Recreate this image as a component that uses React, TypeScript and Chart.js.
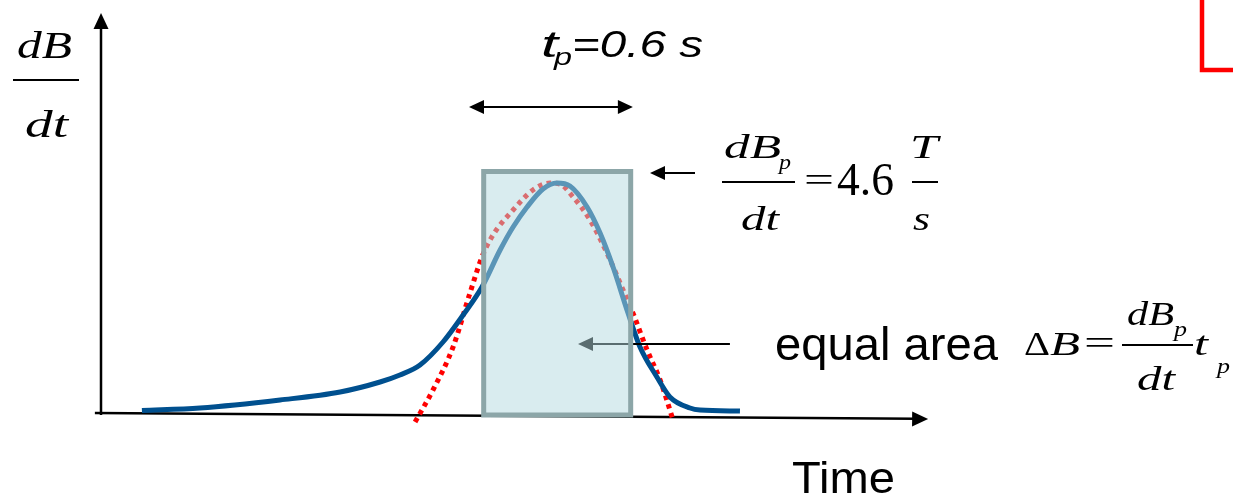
import React, { useEffect, useRef } from "react";
import { Chart, registerables } from "chart.js";

Chart.register(...registerables);

// Measured field-rate pulse (time in s, dB/dt in T/s)
const measuredTime = [0.167, 0.404, 0.731, 0.976, 1.139, 1.22, 1.302, 1.396, 1.478, 1.555, 1.629, 1.682, 1.739, 1.804, 1.861, 1.914, 1.984, 2.037, 2.09, 2.151, 2.2, 2.269, 2.322, 2.404, 2.445, 2.608];
const measuredRate = [0.05, 0.1, 0.26, 0.42, 0.62, 0.76, 0.96, 1.42, 1.96, 2.52, 3.26, 3.72, 4.12, 4.48, 4.6, 4.54, 4.12, 3.6, 2.92, 2.0, 1.32, 0.72, 0.32, 0.1, 0.06, 0.04];

// Fitted pulse shape (dotted)
const fitTime = [1.282, 1.355, 1.437, 1.506, 1.555, 1.6, 1.682, 1.763, 1.833, 1.873, 1.927, 1.996, 2.065, 2.131, 2.171, 2.229, 2.282, 2.335];
const fitRate = [-0.18, 0.46, 1.32, 2.4, 3.12, 3.56, 4.06, 4.46, 4.6, 4.58, 4.32, 3.86, 3.2, 2.46, 2.0, 1.26, 0.66, -0.14];

// Equivalent rectangular pulse
const peakRate = 4.6;
const pulseWidth = 0.6;
const pulseStart = 1.562;
const boxTop = 4.83;
const boxBottom = -0.04;

// Axis extents
const timeMax = 3.5;
const rateMax = 8;

const SERIF = "'Liberation Serif', 'Times New Roman', Times, serif";
const SANS = "'Liberation Sans', Arial, Helvetica, sans-serif";

type Ctx = CanvasRenderingContext2D;

// Draws a text run at a baseline, optionally stretched to a given advance width
function txt(ctx: Ctx, s: string, x: number, base: number, font: string, width?: number, color = "#000") {
  ctx.save();
  ctx.font = font;
  ctx.fillStyle = color;
  ctx.textAlign = "left";
  ctx.textBaseline = "alphabetic";
  const w = ctx.measureText(s).width;
  const sx = width ? width / w : 1;
  ctx.translate(x, base);
  ctx.scale(sx, 1);
  ctx.fillText(s, 0, 0);
  ctx.restore();
}

function line(ctx: Ctx, x1: number, y1: number, x2: number, y2: number, lw: number, color = "#000") {
  ctx.save();
  ctx.strokeStyle = color;
  ctx.lineWidth = lw;
  ctx.lineCap = "butt";
  ctx.beginPath();
  ctx.moveTo(x1, y1);
  ctx.lineTo(x2, y2);
  ctx.stroke();
  ctx.restore();
}

// Filled triangular arrow head pointing at (tx, ty), coming from (fx, fy)
function head(ctx: Ctx, tx: number, ty: number, fx: number, fy: number, len: number, half: number, color = "#000") {
  const a = Math.atan2(ty - fy, tx - fx);
  const bx = tx - len * Math.cos(a);
  const by = ty - len * Math.sin(a);
  ctx.save();
  ctx.fillStyle = color;
  ctx.beginPath();
  ctx.moveTo(tx, ty);
  ctx.lineTo(bx + half * Math.sin(a), by - half * Math.cos(a));
  ctx.lineTo(bx - half * Math.sin(a), by + half * Math.cos(a));
  ctx.closePath();
  ctx.fill();
  ctx.restore();
}

const axesPlugin = {
  id: "axesArrows",
  beforeDatasetsDraw(chart: any) {
    const { ctx, scales } = chart;
    const xs = scales.x;
    const ys = scales.y;
    const x0 = xs.getPixelForValue(0);
    // vertical axis
    const yTop = ys.getPixelForValue(rateMax);
    line(ctx, x0, ys.getPixelForValue(-0.04), x0, yTop + 12, 2.5);
    head(ctx, x0, yTop, x0, yTop + 20, 16, 7.5);
    // horizontal (time) axis
    const sx = xs.getPixelForValue(-0.025);
    const sy = ys.getPixelForValue(0);
    const ex = xs.getPixelForValue(3.376);
    const ey = ys.getPixelForValue(-0.12);
    line(ctx, sx, sy, ex - 12, ey - 0.2, 2.5);
    head(ctx, ex, ey, sx, sy, 16, 7.5);
  },
};

const annotationPlugin = {
  id: "pulseAnnotations",
  afterDatasetsDraw(chart: any) {
    const { ctx, scales } = chart;
    const xs = scales.x;
    const ys = scales.y;

    // equal-area pointer (sits under the box tint)
    const ay = ys.getPixelForValue(1.38);
    const ax1 = xs.getPixelForValue(2.567);
    const ax2 = xs.getPixelForValue(1.947);
    line(ctx, ax1, ay, ax2 + 12, ay, 2);
    head(ctx, ax2, ay, ax1, ay, 15, 7);

    // rectangle of equal area
    const l = xs.getPixelForValue(pulseStart);
    const r = xs.getPixelForValue(pulseStart + pulseWidth);
    const t = ys.getPixelForValue(boxTop);
    const b = ys.getPixelForValue(boxBottom);
    ctx.save();
    ctx.fillStyle = "rgba(180,218,224,0.5)";
    ctx.fillRect(l, t, r - l, b - t);
    ctx.strokeStyle = "rgb(140,166,168)";
    ctx.lineWidth = 5;
    ctx.strokeRect(l, t, r - l, b - t);
    ctx.restore();

    // pulse width arrow
    const py = ys.getPixelForValue(6.12);
    const p1 = xs.getPixelForValue(1.502);
    const p2 = xs.getPixelForValue(2.171);
    line(ctx, p1 + 10, py, p2 - 10, py, 2);
    head(ctx, p1, py, p2, py, 15, 7);
    head(ctx, p2, py, p1, py, 15, 7);

    // y label dB/dt
    txt(ctx, "dB", 17, 58, `italic 38px ${SERIF}`, 55);
    line(ctx, 13, 80, 79, 80, 2);
    txt(ctx, "dt", 25, 137, `italic 38px ${SERIF}`, 43);

    // t_p = 0.6 s
    txt(ctx, "t", 541, 57, `italic 36px ${SANS}`, 17);
    txt(ctx, "p", 554, 65, `italic 23px ${SANS}`, 18);
    txt(ctx, `=${pulseWidth.toFixed(1)} s`, 572, 57, `italic 36px ${SANS}`, 131);

    // peak pointer and dB_p/dt = 4.6 T/s
    line(ctx, 662, 173, 695, 173, 2);
    head(ctx, 650, 173, 695, 173, 15, 7);
    txt(ctx, "dB", 724, 158, `italic 34px ${SERIF}`, 57);
    txt(ctx, "p", 779, 169, `italic 21px ${SERIF}`, 12);
    line(ctx, 722, 182, 795, 182, 2);
    txt(ctx, "dt", 741, 230, `italic 34px ${SERIF}`, 38);
    txt(ctx, "=", 804, 191, `34px ${SERIF}`, 30);
    txt(ctx, peakRate.toFixed(1), 837, 195, `46px ${SERIF}`, 57);
    txt(ctx, "T", 910, 158, `italic 34px ${SERIF}`, 28);
    line(ctx, 912, 182, 938, 182, 2);
    txt(ctx, "s", 913, 230, `italic 34px ${SERIF}`, 17);

    // equal area  ΔB = dB_p/dt t_p
    txt(ctx, "equal area", 775, 360, `47px ${SANS}`, 223);
    txt(ctx, "\u0394", 1024, 355, `34px ${SERIF}`, 26);
    txt(ctx, "B", 1050, 355, `italic 34px ${SERIF}`, 30);
    txt(ctx, "=", 1084, 354, `34px ${SERIF}`, 31);
    txt(ctx, "dB", 1127, 325, `italic 34px ${SERIF}`, 47);
    txt(ctx, "p", 1174, 336, `italic 21px ${SERIF}`, 13);
    line(ctx, 1122, 345, 1193, 345, 2);
    txt(ctx, "dt", 1137, 390, `italic 34px ${SERIF}`, 38);
    txt(ctx, "t", 1194, 355, `italic 34px ${SERIF}`, 14);
    txt(ctx, "p", 1217, 373, `italic 21px ${SERIF}`, 13);

    // axis title
    txt(ctx, "Time", 792, 493, `44px ${SANS}`, 103);

    // red corner mark
    ctx.save();
    ctx.strokeStyle = "#ff0000";
    ctx.lineWidth = 4.5;
    ctx.lineJoin = "miter";
    ctx.beginPath();
    ctx.moveTo(1202, 0);
    ctx.lineTo(1202, 70);
    ctx.lineTo(1233, 70);
    ctx.stroke();
    ctx.restore();
  },
};

export default function App() {
  const ref = useRef<HTMLCanvasElement | null>(null);

  useEffect(() => {
    if (!ref.current) return;
    const measured = measuredTime.map((x, i) => ({ x, y: measuredRate[i] }));
    const fitted = fitTime.map((x, i) => ({ x, y: fitRate[i] }));
    const chart = new Chart(ref.current, {
      type: "scatter",
      data: {
        datasets: [
          {
            label: "measured",
            data: measured,
            showLine: true,
            borderColor: "#00508f",
            borderWidth: 5,
            pointRadius: 0,
            cubicInterpolationMode: "monotone",
            clip: false,
          } as any,
          {
            label: "fit",
            data: fitted,
            showLine: true,
            borderColor: "#ff0000",
            borderWidth: 5,
            borderDash: [4.5, 4.5],
            borderCapStyle: "butt",
            pointRadius: 0,
            cubicInterpolationMode: "monotone",
            clip: false,
          } as any,
        ],
      },
      options: {
        animation: false,
        responsive: false,
        devicePixelRatio: 1,
        layout: { padding: { left: 101, right: 274.5, top: 13, bottom: 86 } },
        plugins: { legend: { display: false }, tooltip: { enabled: false } },
        scales: {
          x: { type: "linear", min: 0, max: timeMax, display: false },
          y: { type: "linear", min: 0, max: rateMax, display: false },
        },
      },
      plugins: [axesPlugin, annotationPlugin],
    });
    return () => chart.destroy();
  }, []);

  return (
    <div style={{ position: "absolute", left: 0, top: 0, width: 1233, height: 499, background: "#fff" }}>
      <canvas ref={ref} width={1233} height={499} />
    </div>
  );
}
